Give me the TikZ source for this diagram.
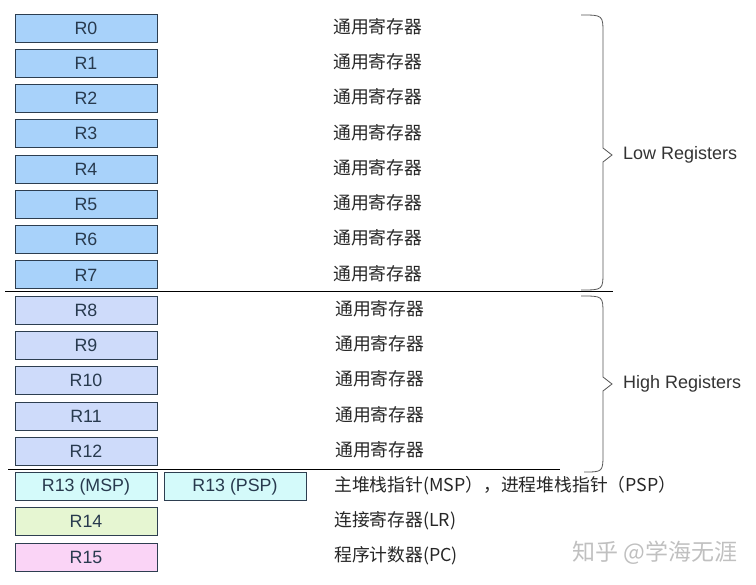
\documentclass[tikz,border=0pt]{standalone}
\usepackage{fontspec}
\setmainfont{Liberation Sans}
\newfontfamily\cjk{Noto Sans CJK SC}
\definecolor{lowfill}{RGB}{168,210,250}
\definecolor{highfill}{RGB}{206,219,250}
\definecolor{spfill}{RGB}{212,250,250}
\definecolor{lrfill}{RGB}{230,246,210}
\definecolor{pcfill}{RGB}{250,212,246}
\definecolor{regline}{RGB}{45,62,80}
\definecolor{regtext}{RGB}{40,58,78}
\definecolor{bracegray}{RGB}{85,85,85}
\definecolor{markgray}{RGB}{192,192,192}
\tikzset{
  reg/.style={draw=regline, line width=0.8pt, minimum width=142pt, minimum height=28pt,
    inner sep=0pt, text=regtext, font=\fontsize{17.8}{18}\selectfont},
  note/.style={anchor=west, inner sep=0pt, text=black!85, font=\cjk\fontsize{17.8}{18}\selectfont},
  group/.style={anchor=west, inner sep=0pt, text=black!80, font=\fontsize{18}{18}\selectfont},
  brace/.style={draw=bracegray, line width=0.8pt},
}
\begin{document}
\begin{tikzpicture}[x=1pt,y=-1pt]
      \useasboundingbox (0,0) rectangle (756,585);
      \draw
        (86,28.0) node[reg,fill=lowfill] (r0){R0}
        (86,63.3) node[reg,fill=lowfill] (r1){R1}
        (86,98.5) node[reg,fill=lowfill] (r2){R2}
        (86,133.8) node[reg,fill=lowfill] (r3){R3}
        (86,169.1) node[reg,fill=lowfill] (r4){R4}
        (86,204.4) node[reg,fill=lowfill] (r5){R5}
        (86,239.6) node[reg,fill=lowfill] (r6){R6}
        (86,274.9) node[reg,fill=lowfill] (r7){R7}
        (86,310.2) node[reg,fill=highfill] (r8){R8}
        (86,345.4) node[reg,fill=highfill] (r9){R9}
        (86,380.7) node[reg,fill=highfill] (r10){R10}
        (86,416.0) node[reg,fill=highfill] (r11){R11}
        (86,451.2) node[reg,fill=highfill] (r12){R12}
        (86,486.5) node[reg,fill=spfill] (r13m){R13 (MSP)}
        (235,486.5) node[reg,fill=spfill] (r13p){R13 (PSP)}
        (86,521.8) node[reg,fill=lrfill] (r14){R14}
        (86,557.0) node[reg,fill=pcfill] (r15){R15};
      \draw
        (333,26.5) node[note] (n0){通用寄存器}
        (333,61.8) node[note] (n1){通用寄存器}
        (333,97.0) node[note] (n2){通用寄存器}
        (333,132.3) node[note] (n3){通用寄存器}
        (333,167.6) node[note] (n4){通用寄存器}
        (333,202.9) node[note] (n5){通用寄存器}
        (333,238.1) node[note] (n6){通用寄存器}
        (333,273.4) node[note] (n7){通用寄存器}
        (335,308.7) node[note] (n8){通用寄存器}
        (335,343.9) node[note] (n9){通用寄存器}
        (335,379.2) node[note] (n10){通用寄存器}
        (335,414.5) node[note] (n11){通用寄存器}
        (335,449.7) node[note] (n12){通用寄存器}
        (334,485.5) node[note] (n13){主堆栈指针(MSP），进程堆栈指针（PSP）}
        (334,520.8) node[note] (n14){连接寄存器(LR)}
        (334,556.0) node[note] (n15){程序计数器(PC)};
      \draw
        (623,155) node[group] (low){Low Registers}
        (623,384) node[group] (high){High Registers};
      \node[anchor=west, inner sep=0pt, text=markgray, font=\cjk\fontsize{23}{24}\selectfont]
        (mark) at (572,553) {知乎 @学海无涯};
      % separators
      \coordinate (sepa) at (5,292);
      \coordinate (sepb) at (613,292);
      \coordinate (sepc) at (8,470);
      \coordinate (sepd) at (560,470);
      \begin{scope}[line width=1pt]
        \draw (sepa) to (sepb);
        \draw (sepc) to (sepd);
      \end{scope}
      % braces
      \draw[brace] (581,15) .. controls (603,15) .. (603,34) -- (603,148) -- (612,155)
        -- (603,162) -- (603,271) .. controls (603,290) .. (581,290);
      \draw[brace] (581,296) .. controls (603,296) .. (603,314) -- (603,377) -- (612,384)
        -- (603,391) -- (603,453) .. controls (603,472) .. (584,472);
    \end{tikzpicture}
\end{document}
